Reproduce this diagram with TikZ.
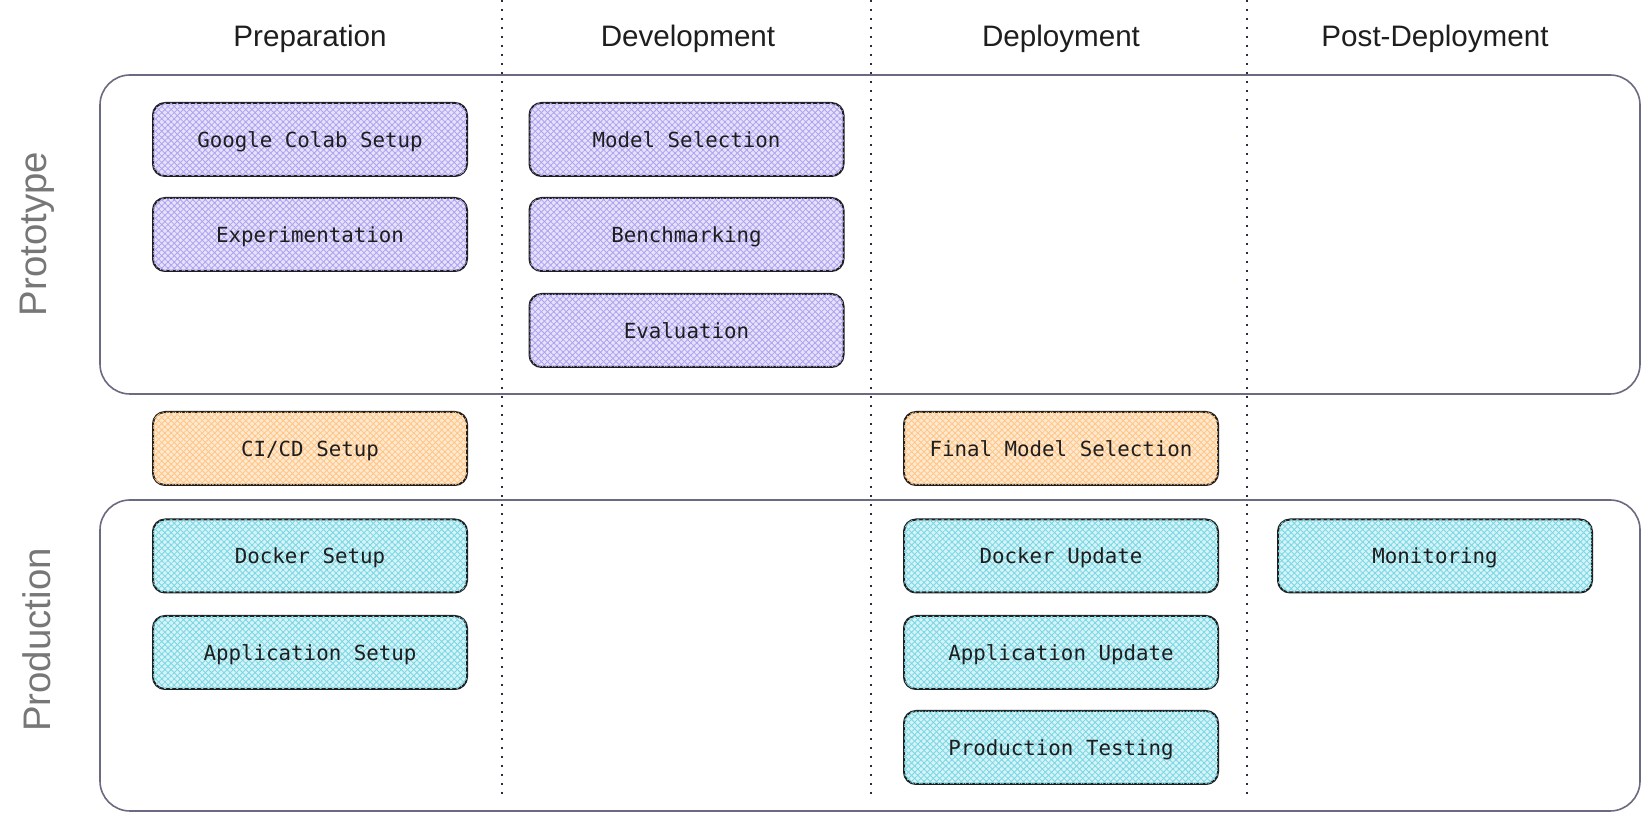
\documentclass[tikz,border=0pt]{standalone}
\usepackage{fontspec}
\setmainfont{Liberation Sans}
\newfontfamily\monofont{DejaVu Sans Mono}
\usetikzlibrary{patterns.meta}
\definecolor{ink}{HTML}{1E1E1E}
\definecolor{frame}{HTML}{6A6A80}
\definecolor{dotc}{HTML}{2B2B45}
\definecolor{labgray}{HTML}{777777}
\definecolor{purpL}{HTML}{AFA3F0}
\definecolor{purpB}{HTML}{E6E2FB}
\definecolor{orgL}{HTML}{FFC585}
\definecolor{orgB}{HTML}{FFE9D0}
\definecolor{cyaL}{HTML}{78D8E5}
\definecolor{cyaB}{HTML}{D6F3F7}
\tikzset{
  task/.style={draw=ink, line width=1pt, rounded corners=6pt,
    minimum width=157pt, minimum height=36.5pt, inner sep=0pt,
    font=\monofont\fontsize{10.4}{12}\selectfont, text=ink,
    text height=9.4pt, text depth=1.6pt},
  hatchP/.style={preaction={fill=purpB},
    postaction={pattern={Lines[angle=45,distance=2.2pt,line width=0.42pt]}, pattern color=purpL},
    postaction={pattern={Lines[angle=-45,distance=2.2pt,line width=0.42pt]}, pattern color=purpL}},
  hatchO/.style={preaction={fill=orgB},
    postaction={pattern={Lines[angle=45,distance=2.2pt,line width=0.42pt]}, pattern color=orgL},
    postaction={pattern={Lines[angle=-45,distance=2.2pt,line width=0.42pt]}, pattern color=orgL}},
  hatchC/.style={preaction={fill=cyaB},
    postaction={pattern={Lines[angle=45,distance=2.2pt,line width=0.42pt]}, pattern color=cyaL},
    postaction={pattern={Lines[angle=-45,distance=2.2pt,line width=0.42pt]}, pattern color=cyaL}},
  proto/.style={task, hatchP},
  bridge/.style={task, hatchO},
  prod/.style={task, hatchC},
  head/.style={font=\fontsize{14.8}{17}\selectfont, text=ink},
  rowlab/.style={font=\fontsize{19.2}{22}\selectfont, text=labgray, rotate=90},
  lane/.style={draw=frame, line width=0.8pt, rounded corners=15pt},
  divider/.style={draw=dotc, line width=1pt, dash pattern=on 1pt off 3.5pt}
}
\begin{document}
\begin{tikzpicture}[x=0.5pt, y=-0.5pt]
\useasboundingbox[fill=white] (0,0) rectangle (1650,822);
% dividers
\coordinate (d1t) at (502,0);  \coordinate (d1b) at (502,800);
\coordinate (d2t) at (871,0);  \coordinate (d2b) at (871,800);
\coordinate (d3t) at (1247,0); \coordinate (d3b) at (1247,800);
\draw[divider] (d1t) -- (d1b);
\draw[divider] (d2t) -- (d2b);
\draw[divider] (d3t) -- (d3b);
% swimlanes
\draw[lane] (100,75) rectangle (1640,394);
\draw[lane] (100,500) rectangle (1640,811);
% headers
\node[head] (hPrep) at (310,39) {Preparation};
\node[head] (hDev) at (688,39) {Development};
\node[head] (hDep) at (1061,39) {Deployment};
\node[head] (hPost) at (1435,39) {Post-Deployment};
% row labels
\node[rowlab] (lProto) at (37,234) {Prototype};
\node[rowlab] (lProd) at (37,640) {Production};
% prototype tasks
\node[proto] (gcs) at (310,139.5) {Google Colab Setup};
\node[proto] (exp) at (310,234.5) {Experimentation};
\node[proto] (msel) at (686.5,139.5) {Model Selection};
\node[proto] (bench) at (686.5,234.5) {Benchmarking};
\node[proto] (eval) at (686.5,330.5) {Evaluation};
% bridge tasks
\node[bridge] (cicd) at (310,448.5) {CI/CD Setup};
\node[bridge] (fms) at (1061,448.5) {Final Model Selection};
% production tasks
\node[prod] (dset) at (310,556) {Docker Setup};
\node[prod] (aset) at (310,652.5) {Application Setup};
\node[prod] (dupd) at (1061,556) {Docker Update};
\node[prod] (aupd) at (1061,652.5) {Application Update};
\node[prod] (ptest) at (1061,747.5) {Production Testing};
\node[prod] (mon) at (1435,556) {Monitoring};
\end{tikzpicture}
\end{document}
